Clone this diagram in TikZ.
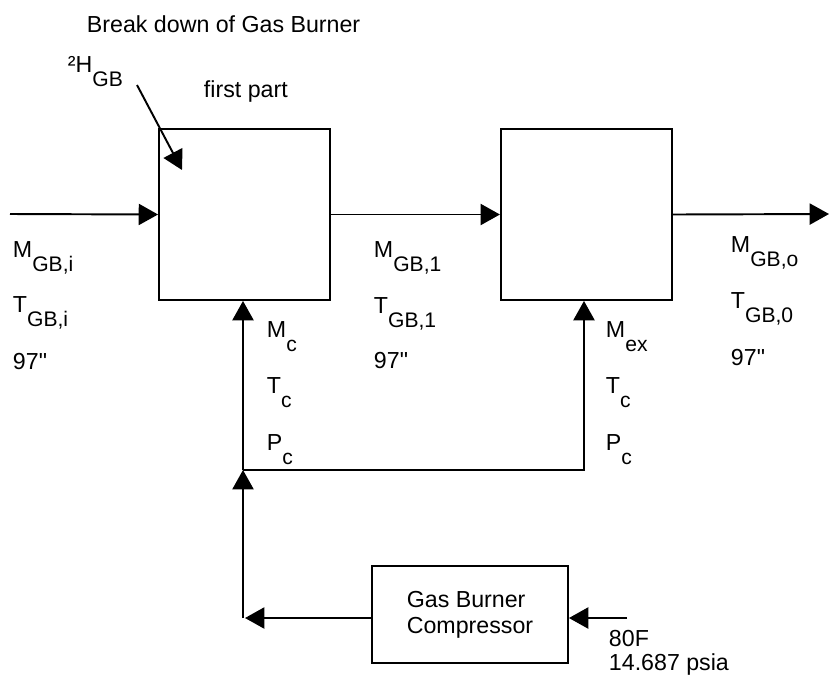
\documentclass[tikz,border=0pt]{standalone}
\usepackage{fontspec}
\setmainfont{Liberation Sans}
\usetikzlibrary{arrows.meta, positioning}

% lowered subscript, as the drawing prints it
\newcommand{\lowsub}[1]{\raisebox{-8pt}{\fontsize{12}{12}\selectfont #1}}

\begin{document}
\begin{tikzpicture}[x=0.02cm, y=-0.02cm, line width=1.1pt,
    every node/.style={font=\fontsize{13.2}{15}\selectfont},
    unit/.style={draw, minimum width=3.42cm, minimum height=3.42cm, inner sep=0pt},
    lbl/.style={anchor=base west, inner sep=0pt},
    flow/.style={-{Triangle[length=11pt, width=12pt]}}]
        \useasboundingbox (0,0) rectangle (831,677);
        \node[unit] at (244.5,214.5) (part1) {};
        \node[unit, right=3.38cm of part1] (part2) {};
        \node[draw, minimum width=3.92cm, minimum height=1.94cm, align=left] at (470,614.5) (comp) {Gas Burner\\Compressor};
        \coordinate (gasin) at (10,214);
        \coordinate (gasout) at (829,214);
        \coordinate (feed) at (627,618);
        \coordinate (ret) at (245,618);
        \coordinate (split) at (243,470);
        \coordinate (corner) at (584,470);
        \coordinate (heat) at (137,85);
        \coordinate (heattip) at (182,170);
        \draw[flow] (gasin) -- (part1.west);
        \draw[flow] (part1.east) -- (part2.west);
        \draw[flow] (part2.east) -- (gasout);
        \draw[flow] (feed) -- (comp.east |- feed);
        \draw[flow] (comp.west |- feed) -- (ret);
        \draw[flow] (split |- feed) -- (split);
        \draw[flow] (split) -- (split |- part1.south);
        \draw[flow] (split) -- (corner) -- (corner |- part2.south);
        \draw[flow] (heat) -- (heattip);
        % labels
        \node[lbl] at (86,32) (title) {Break down of Gas Burner};
        \node[lbl] at (67,72) (hgb) {²H\lowsub{GB}};
        \node[lbl] at (203,97) (first) {first part};
        \node[lbl] at (12,257) (mi) {M\lowsub{GB,i}};
        \node[lbl] at (12,312) (ti) {T\lowsub{GB,i}};
        \node[lbl] at (12,369) (di) {97\textquotedbl};
        \node[lbl] at (373,257) (m1) {M\lowsub{GB,1}};
        \node[lbl] at (373,313) (t1) {T\lowsub{GB,1}};
        \node[lbl] at (373,368) (d1) {97\textquotedbl};
        \node[lbl] at (730,252) (mo) {M\lowsub{GB,o}};
        \node[lbl] at (730,308) (to) {T\lowsub{GB,0}};
        \node[lbl] at (730,365) (do) {97\textquotedbl};
        \node[lbl] at (266,337) (mc) {M\lowsub{c}};
        \node[lbl] at (266,393) (tc) {T\lowsub{c}};
        \node[lbl] at (266,450) (pc) {P\lowsub{c}};
        \node[lbl] at (605,337) (mex) {M\lowsub{ex}};
        \node[lbl] at (605,393) (tex) {T\lowsub{c}};
        \node[lbl] at (605,450) (pex) {P\lowsub{c}};
        \node[lbl] at (608,646) (temp) {80F};
        \node[lbl] at (608,670) (pres) {14.687 psia};
      \end{tikzpicture}
\end{document}
